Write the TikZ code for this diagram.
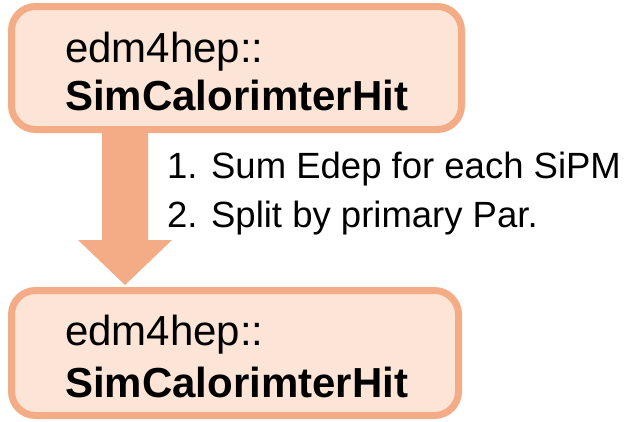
\documentclass[tikz,border=0pt]{standalone}
\usepackage{fontspec}
\setmainfont{Liberation Sans}
\definecolor{boxline}{HTML}{F4AC86}
\definecolor{boxfill}{HTML}{FCE4D6}
\begin{document}
\begin{tikzpicture}[x=1pt,y=-1pt,
  classbox/.style={draw=boxline,fill=boxfill,line width=7pt,rounded corners=24pt,
    rectangle,inner sep=0pt},
  nametxt/.style={anchor=base west,inner sep=0pt,font=\fontsize{42}{48}\selectfont},
  steptxt/.style={anchor=base west,inner sep=0pt,font=\fontsize{36.5}{44}\selectfont}]
\useasboundingbox (0,0) rectangle (628,421);
% boxes
\node[classbox,minimum width=450pt,minimum height=123pt] (top) at (236.5,68) {};
\node[classbox,minimum width=447pt,minimum height=125pt] (bot) at (235,353) {};
% texts
\node[nametxt] (t1) at (65,62) {edm4hep::};
\node[nametxt,font=\fontsize{42}{48}\selectfont\bfseries] (t2) at (65,110) {SimCalorimterHit};
\node[nametxt] (b1) at (65,345) {edm4hep::};
\node[nametxt,font=\fontsize{42}{48}\selectfont\bfseries] (b2) at (65,397) {SimCalorimterHit};
% arrow
\coordinate (tip) at (125,285);
\fill[boxline] (102,133) -- (148,133) -- (148,240) -- (172,240) -- (tip)
  -- (78,240) -- (102,240) -- cycle;
% steps
\node[steptxt] (s1) at (167,178) {1. Sum Edep for each SiPM};
\node[steptxt] (s2) at (167,227) {2. Split by primary Par.};
\end{tikzpicture}
\end{document}
